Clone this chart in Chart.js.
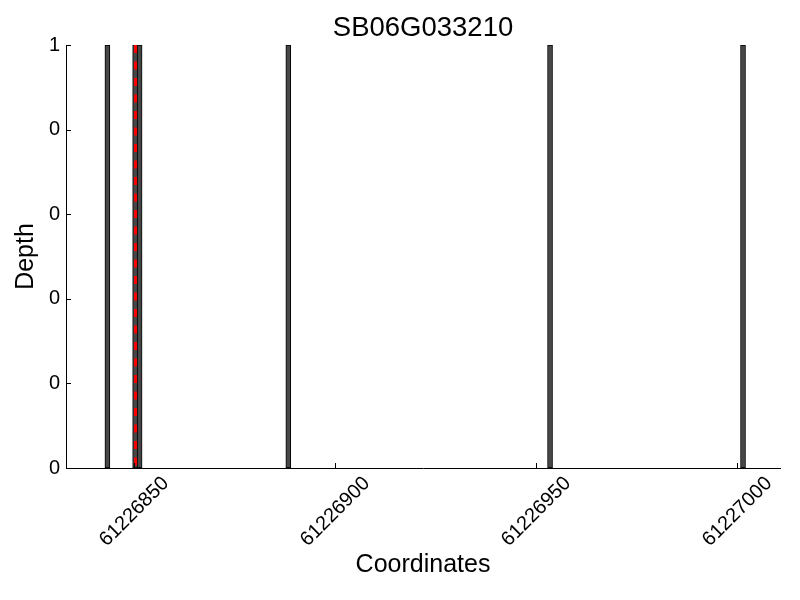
<!DOCTYPE html>
<html>
<head>
<meta charset="utf-8">
<script src="https://cdn.jsdelivr.net/npm/chart.js@4"></script>
<style>
  body { margin: 0; background: #fff; }
  canvas { display: block; }
</style>
</head>
<body>
<canvas id="chart" width="800" height="600"></canvas>
<script>
const positions = [61226843.3, 61226850.2, 61226851.3, 61226888.3, 61226953.4, 61227001.4];
const depths = [1, 1, 1, 1, 1, 1];
const markerPos = 61226850.3;
const xTickValues = [61226850, 61226900, 61226950, 61227000];
const xTickLabels = ['61226850', '61226900', '61226950', '61227000'];
const yTickValues = [0, 0.2, 0.4, 0.6, 0.8, 1];
const yTickLabels = ['0', '0', '0', '0', '0', '1'];

const FONT = "'Liberation Sans', Arial, sans-serif";

// inward tick marks + centred rotated x labels, like the original
const axisDeco = {
    id: 'axisDeco',
    afterDraw(chart) {
        const ctx = chart.ctx;
        const x = chart.scales.x, y = chart.scales.y;
        const area = chart.chartArea;
        ctx.save();
        ctx.strokeStyle = '#000';
        ctx.lineWidth = 1;
        ctx.beginPath();
        xTickValues.forEach(v => {
            const px = Math.round(x.getPixelForValue(v)) + 0.5;
            ctx.moveTo(px, area.bottom);
            ctx.lineTo(px, area.bottom - 5);
        });
        yTickValues.forEach(v => {
            const py = Math.round(y.getPixelForValue(v)) + 0.5;
            ctx.moveTo(area.left, py);
            ctx.lineTo(area.left + 5, py);
        });
        ctx.stroke();

        ctx.font = '20px ' + FONT;
        ctx.fillStyle = '#000';
        ctx.textAlign = 'center';
        ctx.textBaseline = 'middle';
        xTickValues.forEach((v, i) => {
            const txt = xTickLabels[i];
            const w = ctx.measureText(txt).width;
            const h = 15;
            const box = (w + h) * Math.SQRT1_2;
            const cx = x.getPixelForValue(v);
            const cy = area.bottom + 7 + box / 2;
            ctx.save();
            ctx.translate(cx, cy);
            ctx.rotate(-Math.PI / 4);
            ctx.fillText(txt, 0, 0);
            ctx.restore();
        });
        ctx.restore();
    }
};

new Chart(document.getElementById('chart'), {
    type: 'bar',
    data: {
        datasets: [{
            type: 'line',
            data: [{x: markerPos, y: 1}, {x: markerPos, y: 0}],
            borderColor: 'rgb(255, 0, 0)',
            borderWidth: 3,
            borderDash: [8, 8.5],
            pointRadius: 0,
            fill: false
        }, {
            type: 'bar',
            data: positions.map((p, i) => ({x: p, y: depths[i]})),
            backgroundColor: '#474747',
            borderColor: '#000',
            borderWidth: 1,
            borderSkipped: false,
            barThickness: 5
        }]
    },
    options: {
        responsive: false,
        animation: false,
        layout: { padding: { left: 0, right: 20, top: 0, bottom: 0 } },
        plugins: {
            legend: { display: false },
            tooltip: { enabled: false },
            title: {
                display: true,
                text: 'SB06G033210',
                color: '#000',
                fullSize: false,
                font: { family: FONT, size: 27.5, weight: 'normal' },
                padding: { top: 12, bottom: 0 }
            }
        },
        scales: {
            x: {
                type: 'linear',
                min: 61226833,
                max: 61227010.6,
                offset: false,
                afterBuildTicks: s => { s.ticks = xTickValues.map(v => ({value: v})); },
                afterFit: s => { s.height = 132; },
                grid: { display: false, drawTicks: false },
                border: { display: true, color: '#000', width: 1 },
                ticks: { display: false },
                title: {
                    display: true,
                    text: 'Coordinates',
                    color: '#000',
                    font: { family: FONT, size: 25 },
                    padding: { bottom: 20 }
                }
            },
            y: {
                min: 0,
                max: 1,
                afterBuildTicks: s => { s.ticks = yTickValues.map(v => ({value: v})); },
                afterFit: s => { s.width = 66; },
                grid: { display: false, drawTicks: false },
                border: { display: true, color: '#000', width: 1 },
                ticks: {
                    color: '#000',
                    padding: 6,
                    font: { family: FONT, size: 20 },
                    callback: (v, i) => yTickLabels[i]
                },
                title: {
                    display: true,
                    text: 'Depth',
                    color: '#000',
                    font: { family: FONT, size: 25 },
                    padding: { top: 11 }
                }
            }
        }
    },
    plugins: [axisDeco]
});
</script>
</body>
</html>
